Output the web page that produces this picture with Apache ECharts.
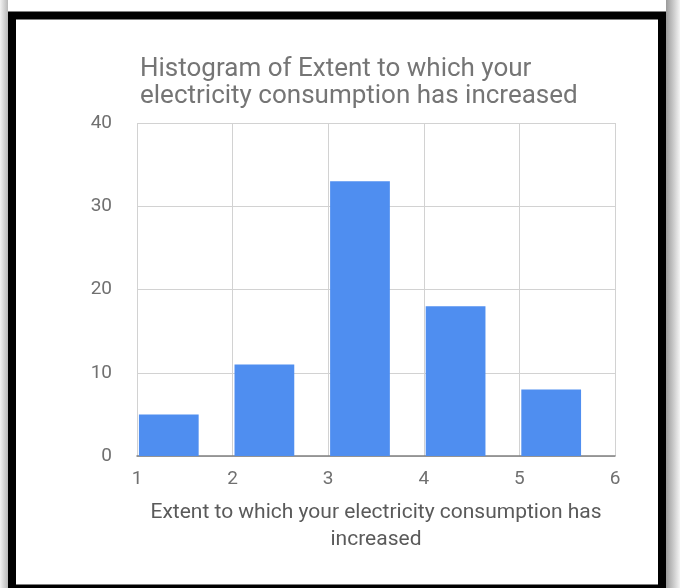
<!DOCTYPE html>
<html>
<head>
<meta charset="utf-8">
<style>
  html, body { margin: 0; padding: 0; background: #ffffff; }
  #chart { width: 680px; height: 588px; }
</style>
<script src="https://cdn.jsdelivr.net/npm/echarts@6/dist/echarts.min.js"></script>
</head>
<body>
<div id="chart"></div>
<script>
// Histogram bins (start of each bucket) and the number of answers in each
const binStarts = [1, 2, 3, 4, 5];
const counts = [5, 11, 33, 18, 8];
const xTicks = [1, 2, 3, 4, 5, 6];
const yTicks = [0, 10, 20, 30, 40];

const titleText = 'Histogram of Extent to which your\nelectricity consumption has increased';
const xAxisTitle = 'Extent to which your electricity consumption has\nincreased';

const chart = echarts.init(document.getElementById('chart'), null, { renderer: 'canvas' });

const fontFamily = 'Roboto, "Noto Sans", sans-serif';

chart.setOption({
  backgroundColor: '#ffffff',
  animation: false,
  title: {
    text: titleText,
    left: 135,
    top: 51,
    textStyle: {
      fontFamily: fontFamily,
      fontSize: 26,
      fontWeight: 'normal',
      color: '#757575',
      lineHeight: 27
    }
  },
  grid: { left: 137, right: 65, top: 123, bottom: 132 },
  xAxis: {
    type: 'value',
    min: xTicks[0],
    max: xTicks[xTicks.length - 1],
    interval: 1,
    name: xAxisTitle,
    nameLocation: 'middle',
    nameGap: 43,
    nameTextStyle: {
      fontFamily: fontFamily,
      fontSize: 21,
      color: '#5a5a5a',
      lineHeight: 27
    },
    axisLine: { show: true, lineStyle: { color: '#808080', width: 1.5 } },
    axisTick: { show: false },
    axisLabel: {
      margin: 14,
      fontFamily: fontFamily,
      fontSize: 19,
      color: '#707070'
    },
    splitLine: { show: true, lineStyle: { color: '#d2d2d2', width: 1 } }
  },
  yAxis: {
    type: 'value',
    min: yTicks[0],
    max: yTicks[yTicks.length - 1],
    interval: 10,
    axisLine: { show: false },
    axisTick: { show: false },
    axisLabel: {
      margin: 25,
      fontFamily: fontFamily,
      fontSize: 19,
      color: '#707070'
    },
    splitLine: { show: true, lineStyle: { color: '#d2d2d2', width: 1 } }
  },
  series: [{
    type: 'custom',
    data: binStarts.map((s, i) => [s, counts[i]]),
    encode: { x: 0, y: 1 },
    z: 3,
    renderItem: function (params, api) {
      const start = api.value(0);
      const top = api.coord([start, api.value(1)]);
      const base = api.coord([start, 0]);
      const binWidth = api.size([1, 0])[0];
      const x = base[0] + binWidth * 0.02;
      const w = binWidth * 0.625;
      return {
        type: 'rect',
        shape: { x: x, y: top[1], width: w, height: base[1] - top[1] },
        style: { fill: '#4f8ef0' }
      };
    }
  }],
  graphic: [
    // soft grey shading outside the frame
    {
      type: 'rect', left: 0, top: 0, z: 0,
      shape: { width: 8, height: 588 },
      style: {
        fill: new echarts.graphic.LinearGradient(0, 0, 1, 0, [
          { offset: 0, color: '#f2f2f2' },
          { offset: 1, color: '#b8b8b8' }
        ])
      }
    },
    {
      type: 'rect', left: 666, top: 0, z: 0,
      shape: { width: 14, height: 588 },
      style: {
        fill: new echarts.graphic.LinearGradient(0, 0, 1, 0, [
          { offset: 0, color: '#9a9a9a' },
          { offset: 1, color: '#f4f4f4' }
        ])
      }
    },
    // black picture frame
    {
      type: 'rect', z: 10, silent: true,
      shape: { x: 12, y: 15.5, width: 650, height: 573 },
      style: { fill: 'none', stroke: '#000000', lineWidth: 8 }
    }
  ]
});
</script>
</body>
</html>
